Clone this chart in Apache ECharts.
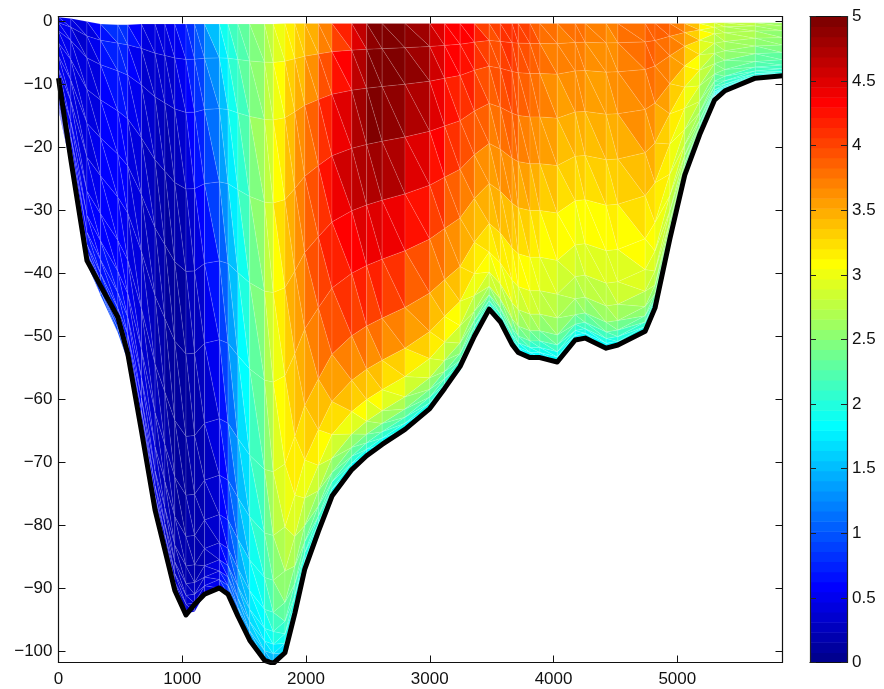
<!DOCTYPE html>
<html><head><meta charset="utf-8">
<style>html,body{margin:0;padding:0;background:#fff}#c{width:884px;height:689px}</style>
<script src="https://cdn.jsdelivr.net/npm/echarts@6/dist/echarts.min.js"></script>
</head><body><div id="c"></div>
<script>
const xTicks=[0,1000,2000,3000,4000,5000];
const yTicks=[0,-10,-20,-30,-40,-50,-60,-70,-80,-90,-100];
const cbTicks=[0,0.5,1,1.5,2,2.5,3,3.5,4,4.5,5];
const stations=[0,100,230,340,480,560,670,780,860,940,1030,1100,1180,1300,1370,1450,1545,1665,1735,1830,1910,1990,2100,2210,2370,2490,2615,2800,3000,3120,3245,3360,3480,3570,3665,3715,3810,3890,4030,4175,4255,4425,4520,4740,4820,4940,5060,5180,5300,5385,5630,5850];
const bottomLine=[-9,-22,-38,-42,-47,-52.8,-65,-77.6,-84,-90.4,-94.3,-92.6,-91,-90,-91,-94.5,-98.3,-101.5,-102,-100.3,-94,-87,-81,-75.4,-71.2,-69,-67.2,-64.8,-61.5,-58.3,-54.8,-50,-45.7,-47.7,-51.3,-52.6,-53.4,-53.4,-54.1,-50.6,-50.3,-51.9,-51.4,-49.2,-45.5,-34.5,-24.4,-18,-12.5,-11,-9,-8.6];
const meshBottom=[-14,-23,-38.5,-43.5,-49.5,-54,-65,-77.6,-84,-90.4,-94,-93.8,-91,-90,-91,-94.5,-98.3,-101.5,-102,-100.3,-94,-87,-81,-75.4,-71.2,-69,-67.2,-64.8,-61.5,-58.5,-55.5,-50,-45.7,-47.9,-51.3,-52.6,-53.4,-53.4,-54.1,-50.6,-50.3,-51.9,-51.6,-49.2,-45.5,-34.5,-24.4,-18,-11.8,-10.8,-9,-8.6];
const surface=[0.7,0.5,0,-0.4,-0.5,-0.5,-0.4,-0.4,-0.4,-0.4,-0.4,-0.4,-0.4,-0.4,-0.4,-0.4,-0.4,-0.4,-0.4,-0.3,-0.3,-0.3,-0.3,-0.3,-0.3,-0.3,-0.3,-0.3,-0.3,-0.3,-0.3,-0.3,-0.3,-0.3,-0.3,-0.3,-0.3,-0.3,-0.3,-0.3,-0.3,-0.3,-0.3,-0.3,-0.3,-0.3,-0.3,-0.3,-0.2,-0.2,-0.2,-0.2];
const sigmaLevels=[0,.06,.15,.28,.42,.56,.7,.8,.87,.92,.95,.97,.985,1];
const profiles=[
[.55,.55,.55,.55,.55,.6,.6,.6,.6,.6,.6,.6,.65,.65],
[.5,.45,.45,.45,.45,.45,.5,.5,.55,.55,.6,.6,.65,.7],
[.4,.35,.35,.4,.4,.45,.5,.55,.6,.65,.7,.7,.75,.8],
[.65,.6,.55,.5,.5,.55,.55,.6,.65,.7,.75,.8,.85,.9],
[.9,.85,.75,.7,.65,.6,.6,.65,.7,.75,.8,.85,.9,.95],
[.75,.7,.65,.55,.5,.5,.5,.55,.6,.65,.7,.75,.8,.85],
[.5,.45,.4,.4,.35,.35,.35,.4,.45,.5,.55,.6,.65,.7],
[.45,.4,.3,.25,.2,.2,.25,.3,.35,.4,.45,.5,.55,.6],
[.5,.4,.3,.2,.15,.15,.15,.2,.25,.3,.35,.4,.45,.55],
[.55,.45,.3,.2,.1,.1,.1,.15,.15,.2,.25,.3,.35,.45],
[.75,.6,.45,.3,.2,.1,.1,.15,.15,.2,.25,.3,.35,.4],
[.95,.85,.7,.5,.35,.25,.2,.2,.2,.2,.25,.3,.35,.45],
[1.2,1.05,.9,.7,.5,.3,.25,.2,.2,.2,.25,.3,.35,.4],
[1.75,1.55,1.35,1.1,.85,.65,.5,.45,.4,.4,.45,.5,.55,.6],
[2,1.9,1.75,1.55,1.3,1.1,.95,.85,.8,.8,.85,.9,.9,.9],
[2.2,2.15,2.05,1.9,1.75,1.6,1.45,1.35,1.3,1.3,1.3,1.3,1.25,1.2],
[2.35,2.35,2.35,2.3,2.2,2.05,1.9,1.8,1.75,1.7,1.65,1.6,1.5,1.4],
[2.6,2.65,2.7,2.7,2.65,2.55,2.4,2.25,2.1,1.95,1.85,1.75,1.6,1.4],
[2.8,2.85,2.9,2.95,2.95,2.9,2.75,2.6,2.4,2.2,2,1.85,1.65,1.4],
[3.1,3.15,3.3,3.35,3.35,3.25,3.1,2.9,2.7,2.45,2.25,2.05,1.8,1.5],
[3.2,3.3,3.45,3.55,3.55,3.45,3.25,3.05,2.8,2.5,2.25,2.05,1.85,1.6],
[3.3,3.4,3.6,3.8,3.8,3.65,3.4,3.15,2.9,2.55,2.3,2.1,1.9,1.7],
[3.55,3.65,3.9,4.05,4.05,3.9,3.6,3.3,3.0,2.65,2.4,2.15,1.95,1.75],
[3.75,3.9,4.2,4.35,4.3,4.1,3.75,3.4,3.05,2.7,2.4,2.2,2,1.8],
[4.3,4.4,4.6,4.7,4.55,4.25,3.9,3.55,3.2,2.8,2.45,2.25,2,1.8],
[4.8,4.85,4.95,4.9,4.6,4.3,3.9,3.55,3.2,2.8,2.45,2.25,2,1.8],
[5,5,5,4.95,4.65,4.3,3.9,3.5,3.2,2.8,2.5,2.25,2,1.8],
[5,5,4.95,4.8,4.5,4.2,3.8,3.45,3.1,2.75,2.45,2.2,2,1.8],
[4.7,4.7,4.65,4.5,4.25,4,3.65,3.35,3.05,2.7,2.4,2.2,2,1.8],
[4.4,4.4,4.4,4.3,4.1,3.85,3.55,3.3,3.0,2.7,2.4,2.2,2,1.8],
[4.3,4.3,4.2,4.05,3.85,3.65,3.4,3.15,2.85,2.6,2.35,2.15,1.95,1.75],
[4.35,4.3,4.25,4.05,3.85,3.55,3.3,3.1,2.85,2.6,2.35,2.2,2,1.8],
[3.9,3.9,3.85,3.8,3.65,3.5,3.3,3.15,3,2.75,2.45,2.2,1.95,1.75],
[4.05,4.05,4,3.9,3.75,3.55,3.3,3.15,2.95,2.7,2.4,2.15,1.95,1.75],
[4.15,4.1,4.05,3.95,3.75,3.5,3.25,3.05,2.85,2.6,2.3,2.1,1.9,1.7],
[4.1,4.05,4,3.9,3.7,3.45,3.2,3.05,2.8,2.6,2.3,2.1,1.9,1.7],
[3.95,3.95,3.9,3.75,3.55,3.35,3.15,3,2.8,2.55,2.25,2.05,1.85,1.7],
[3.9,3.85,3.8,3.7,3.55,3.3,3.05,2.9,2.7,2.5,2.2,2,1.85,1.7],
[3.7,3.7,3.65,3.55,3.4,3.2,3,2.85,2.65,2.45,2.2,2,1.85,1.7],
[3.8,3.75,3.7,3.55,3.35,3.15,2.95,2.8,2.65,2.45,2.2,2.05,1.85,1.7],
[3.75,3.7,3.65,3.55,3.35,3.15,3,2.85,2.7,2.5,2.25,2.05,1.85,1.7],
[3.65,3.65,3.6,3.5,3.35,3.2,3,2.85,2.7,2.5,2.25,2.05,1.85,1.7],
[3.7,3.7,3.65,3.55,3.4,3.2,3,2.9,2.75,2.55,2.3,2.1,1.9,1.75],
[3.85,3.85,3.8,3.7,3.55,3.35,3.15,3,2.85,2.6,2.35,2.15,1.95,1.8],
[3.95,3.9,3.85,3.7,3.5,3.3,3.1,2.95,2.8,2.6,2.35,2.15,1.95,1.85],
[3.85,3.8,3.7,3.55,3.3,3.2,3.05,2.9,2.8,2.65,2.5,2.35,2.2,2.05],
[3.7,3.65,3.55,3.35,3.15,3,2.85,2.75,2.65,2.5,2.4,2.25,2.1,2],
[3.25,3.2,3.15,3.05,2.95,2.8,2.7,2.55,2.45,2.35,2.2,2.1,2,1.85],
[2.85,2.8,2.8,2.7,2.65,2.55,2.4,2.3,2.2,2.1,2,1.9,1.8,1.7],
[2.8,2.8,2.75,2.7,2.6,2.5,2.4,2.25,2.15,2.05,1.95,1.85,1.8,1.7],
[2.75,2.7,2.65,2.6,2.5,2.4,2.3,2.2,2.1,2,1.95,1.85,1.8,1.7],
[2.6,2.6,2.55,2.5,2.45,2.35,2.25,2.15,2.05,2,1.9,1.85,1.75,1.7]
];
const N=64,VMAX=5;
function jetAt(i){
  const t=(i+1)/N;
  const ch=(c)=>Math.round(255*Math.max(0,Math.min(1,Math.min(4*t-c,-4*t+c+3))));
  return 'rgb('+ch(1.5)+','+ch(0.5)+','+ch(-0.5)+')';
}
function colorOf(v){return jetAt(Math.max(0,Math.min(N-1,Math.floor(v/VMAX*N))));}
function nodeY(i,j){const s=surface[i];return s+(meshBottom[i]-s)*sigmaLevels[j];}
const cells=[];
for(let i=0;i<stations.length-1;i++)for(let j=0;j<sigmaLevels.length-1;j++)cells.push([i,j]);
const meshStroke={stroke:'rgba(255,255,255,0.2)',lineWidth:0.6};
function renderCell(p,api){
  const c=cells[p.dataIndex],i=c[0],j=c[1],a=[i,j],b=[i+1,j],d=[i+1,j+1],e=[i,j+1];
  const P=n=>api.coord([stations[n[0]],nodeY(n[0],n[1])]);
  const V=n=>profiles[n[0]][n[1]];
  const tri=(m,n,o)=>({type:'polygon',shape:{points:[P(m),P(n),P(o)]},
    style:Object.assign({fill:colorOf((V(m)+V(n)+V(o))/3)},meshStroke)});
  return {type:'group',children:[tri(a,e,d),tri(a,b,d)]};
}
const levels=Array.from({length:N},(_,k)=>k);
function renderBar(p,api){
  const k=levels[p.dataIndex];
  const lo=api.coord([0,k*VMAX/N]),hi=api.coord([1,(k+1)*VMAX/N]);
  return {type:'rect',shape:{x:lo[0],y:hi[1],width:hi[0]-lo[0],height:lo[1]-hi[1]+0.5},style:{fill:jetAt(k)}};
}
const font={fontFamily:'Liberation Sans',fontSize:17,color:'#111'};
const axLine={show:true,onZero:false,lineStyle:{color:'#111',width:1.2}};
const minusFmt=v=>String(v).replace('-','\u2212');
function xA(grid,pos,min,max,labels,ticks){return {type:'value',gridIndex:grid,position:pos,min,max,z:10,splitLine:{show:false},axisLine:axLine,
  axisTick:{show:!!ticks,inside:true,length:7,lineStyle:{color:'#111',width:1},customValues:ticks||[]},
  axisLabel:{show:!!labels,margin:8,customValues:labels||[],formatter:minusFmt,showMinLabel:true,showMaxLabel:true,...font}};}
function yA(grid,pos,min,max,labels,ticks,tc){return {type:'value',gridIndex:grid,position:pos,min,max,z:10,splitLine:{show:false},
  axisLine:{show:true,onZero:false,lineStyle:{color:tc||'#111',width:1.2}},
  axisTick:{show:!!ticks,inside:true,length:tc?6:7,lineStyle:{color:tc||'#111',width:1},customValues:ticks||[]},
  axisLabel:{show:!!labels,margin:tc?5:6,padding:[2,0,0,0],customValues:labels||[],formatter:minusFmt,showMinLabel:true,showMaxLabel:true,...font}};}
const chart=echarts.init(document.getElementById('c'),null,{renderer:'canvas'});
chart.setOption({
  animation:false,backgroundColor:'#fff',
  grid:[{left:58.5,top:16.5,width:724,height:646},{left:810,top:16.5,width:37,height:646}],
  xAxis:[xA(0,'bottom',0,5850,xTicks,xTicks),xA(0,'top',0,5850,null,xTicks),xA(1,'bottom',0,1),xA(1,'top',0,1)],
  yAxis:[yA(0,'left',-101.85,0.8,yTicks,yTicks),yA(0,'right',-101.85,0.8,null,yTicks),
         yA(1,'left',0,5,null,cbTicks,'#222'),yA(1,'right',0,5,cbTicks,cbTicks,'#222')],
  series:[
    {type:'custom',xAxisIndex:0,yAxisIndex:0,clip:true,silent:true,data:cells,renderItem:renderCell,progressive:0,z:2},
    {type:'line',xAxisIndex:0,yAxisIndex:0,clip:true,silent:true,showSymbol:false,symbol:'none',z:3,
      lineStyle:{color:'#000',width:5,join:'round'},data:stations.map((x,i)=>[x,bottomLine[i]])},
    {type:'custom',xAxisIndex:2,yAxisIndex:2,clip:true,silent:true,data:levels,renderItem:renderBar,progressive:0,z:2}
  ]
});
</script></body></html>
